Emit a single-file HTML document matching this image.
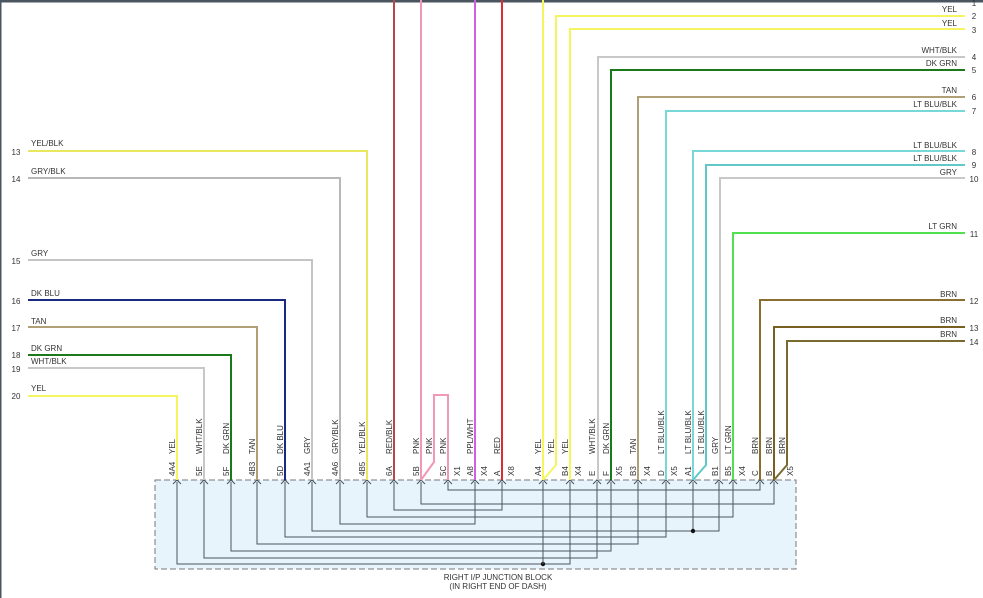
<!DOCTYPE html>
<html><head><meta charset="utf-8"><style>
html,body{margin:0;padding:0;background:#fff;width:983px;height:598px;overflow:hidden}
svg{display:block}
text{font-family:"Liberation Sans",sans-serif;font-size:8px;fill:#333}
</style></head><body>
<svg width="983" height="598" viewBox="0 0 983 598" xmlns="http://www.w3.org/2000/svg">
<rect x="0" y="0" width="983" height="598" fill="#fff"/>
<rect x="0" y="0" width="983" height="2.5" fill="#4a5560"/>
<rect x="0" y="0" width="1.5" height="598" fill="#4a5560"/>

<!-- junction block -->
<rect x="155" y="480" width="641" height="89" fill="#e8f4fc" stroke="#777" stroke-width="1" stroke-dasharray="6,3"/>
<text x="498" y="580" text-anchor="middle" font-size="7.5">RIGHT I/P JUNCTION BLOCK</text>
<text x="498" y="589" text-anchor="middle" font-size="7.5">(IN RIGHT END OF DASH)</text>

<!-- internal wiring -->
<g stroke="#4a5560" stroke-width="1" fill="none">
<path d="M177 482V564H570V482"/>
<path d="M204 482V558H597V482"/>
<path d="M231 482V551H611V482"/>
<path d="M257 482V544H638V482"/>
<path d="M285 482V537H666V482"/>
<path d="M312 482V531H719V482M693 482V531"/>
<path d="M340 482V524H475V482"/>
<path d="M367 482V517H733V482"/>
<path d="M394 482V510H502V482"/>
<path d="M421 482V504H774V482"/>
<path d="M448 482V490H760V482"/>
</g>
<circle cx="543" cy="564" r="2.2" fill="#111"/>
<path d="M543 482V564" stroke="#4a5560" stroke-width="1"/>
<circle cx="693" cy="531" r="2.2" fill="#111"/>

<!-- pin markers -->
<g stroke="#4a5560" stroke-width="1" fill="none">
<path d="M173 484l4-4 4 4M200 484l4-4 4 4M227 484l4-4 4 4M253 484l4-4 4 4M281 484l4-4 4 4M308 484l4-4 4 4M336 484l4-4 4 4M363 484l4-4 4 4M390 484l4-4 4 4M417 484l4-4 4 4M444 484l4-4 4 4M471 484l4-4 4 4M498 484l4-4 4 4M539 484l4-4 4 4M566 484l4-4 4 4M593 484l4-4 4 4M607 484l4-4 4 4M634 484l4-4 4 4M662 484l4-4 4 4M689 484l4-4 4 4M715 484l4-4 4 4M729 484l4-4 4 4M756 484l4-4 4 4M770 484l4-4 4 4"/>
</g>

<!-- external wires -->
<g fill="none" stroke-width="2">
<!-- left side -->
<path d="M28 151H367V480" stroke="#e8e860"/>
<path d="M28 178H340V480" stroke="#b8b8b8"/>
<path d="M28 260H312V480" stroke="#c4c4c4"/>
<path d="M28 300H285V480" stroke="#1a2a80"/>
<path d="M28 327H257V480" stroke="#b0a078"/>
<path d="M28 355H231V480" stroke="#1a7a1a"/>
<path d="M28 368H204V480" stroke="#c8c8c8"/>
<path d="M28 396H177V480" stroke="#f5f560"/>
<!-- top -->
<path d="M394 0V480" stroke="#b84848"/>
<path d="M421 0V480" stroke="#f098b8"/>
<path d="M448 480V395H434V462L421 480" stroke="#f098b8"/>
<path d="M475 0V480" stroke="#d060e0"/>
<path d="M502 0V480" stroke="#d83030"/>
<!-- right side -->
<path d="M543 0V480" stroke="#f5f560"/>
<path d="M965 16H556V465L543 480" stroke="#f5f560"/>
<path d="M965 29H570V480" stroke="#f5f560"/>
<path d="M965 57H598V480" stroke="#c8c8c8"/>
<path d="M965 70H611V480" stroke="#1a7a1a"/>
<path d="M965 97H638V480" stroke="#b0a078"/>
<path d="M965 111H666V480" stroke="#78d8d8"/>
<path d="M965 151H693V480" stroke="#78d8d8"/>
<path d="M965 165H706V465L693 480" stroke="#60c8c8"/>
<path d="M965 178H720V480" stroke="#c8c8c8"/>
<path d="M965 233H733V480" stroke="#50e050"/>
<path d="M965 300H760V480" stroke="#8a7030"/>
<path d="M965 327H774V480" stroke="#7a6020"/>
<path d="M965 341H787V465L774 480" stroke="#7a6a30"/>
</g>

<!-- left labels -->
<g>
<text x="31" y="146">YEL/BLK</text><text x="16" y="155" text-anchor="middle">13</text>
<text x="31" y="174">GRY/BLK</text><text x="16" y="182" text-anchor="middle">14</text>
<text x="31" y="256">GRY</text><text x="16" y="264" text-anchor="middle">15</text>
<text x="31" y="296">DK BLU</text><text x="16" y="304" text-anchor="middle">16</text>
<text x="31" y="324">TAN</text><text x="16" y="331" text-anchor="middle">17</text>
<text x="31" y="351">DK GRN</text><text x="16" y="358" text-anchor="middle">18</text>
<text x="31" y="364">WHT/BLK</text><text x="16" y="372" text-anchor="middle">19</text>
<text x="31" y="391">YEL</text><text x="16" y="399" text-anchor="middle">20</text>
</g>

<!-- right labels -->
<g>
<text x="974" y="6" text-anchor="middle">1</text>
<text x="957" y="12" text-anchor="end">YEL</text><text x="974" y="19" text-anchor="middle">2</text>
<text x="957" y="26" text-anchor="end">YEL</text><text x="974" y="33" text-anchor="middle">3</text>
<text x="957" y="53" text-anchor="end">WHT/BLK</text><text x="974" y="60" text-anchor="middle">4</text>
<text x="957" y="66" text-anchor="end">DK GRN</text><text x="974" y="73" text-anchor="middle">5</text>
<text x="957" y="93" text-anchor="end">TAN</text><text x="974" y="100" text-anchor="middle">6</text>
<text x="957" y="107" text-anchor="end">LT BLU/BLK</text><text x="974" y="114" text-anchor="middle">7</text>
<text x="957" y="148" text-anchor="end">LT BLU/BLK</text><text x="974" y="155" text-anchor="middle">8</text>
<text x="957" y="161" text-anchor="end">LT BLU/BLK</text><text x="974" y="168" text-anchor="middle">9</text>
<text x="957" y="175" text-anchor="end">GRY</text><text x="974" y="182" text-anchor="middle">10</text>
<text x="957" y="229" text-anchor="end">LT GRN</text><text x="974" y="237" text-anchor="middle">11</text>
<text x="957" y="297" text-anchor="end">BRN</text><text x="974" y="304" text-anchor="middle">12</text>
<text x="957" y="323" text-anchor="end">BRN</text><text x="974" y="331" text-anchor="middle">13</text>
<text x="957" y="337" text-anchor="end">BRN</text><text x="974" y="345" text-anchor="middle">14</text>
</g>

<!-- pin labels (rotated) -->
<g>
<text transform="translate(175,476) rotate(-90)">4A4</text><text transform="translate(175,454) rotate(-90)">YEL</text>
<text transform="translate(202,476) rotate(-90)">5E</text><text transform="translate(202,454) rotate(-90)">WHT/BLK</text>
<text transform="translate(229,476) rotate(-90)">5F</text><text transform="translate(229,454) rotate(-90)">DK GRN</text>
<text transform="translate(255,476) rotate(-90)">4B3</text><text transform="translate(255,454) rotate(-90)">TAN</text>
<text transform="translate(283,476) rotate(-90)">5D</text><text transform="translate(283,454) rotate(-90)">DK BLU</text>
<text transform="translate(310,476) rotate(-90)">4A1</text><text transform="translate(310,454) rotate(-90)">GRY</text>
<text transform="translate(338,476) rotate(-90)">4A6</text><text transform="translate(338,454) rotate(-90)">GRY/BLK</text>
<text transform="translate(365,476) rotate(-90)">4B5</text><text transform="translate(365,454) rotate(-90)">YEL/BLK</text>
<text transform="translate(392,476) rotate(-90)">6A</text><text transform="translate(392,454) rotate(-90)">RED/BLK</text>
<text transform="translate(419,476) rotate(-90)">5B</text><text transform="translate(419,454) rotate(-90)">PNK</text>
<text transform="translate(432,454) rotate(-90)">PNK</text>
<text transform="translate(446,476) rotate(-90)">5C</text><text transform="translate(446,454) rotate(-90)">PNK</text>
<text transform="translate(460,476) rotate(-90)">X1</text>
<text transform="translate(473,476) rotate(-90)">A8</text><text transform="translate(473,454) rotate(-90)">PPL/WHT</text>
<text transform="translate(487,476) rotate(-90)">X4</text>
<text transform="translate(500,476) rotate(-90)">A</text><text transform="translate(500,454) rotate(-90)">RED</text>
<text transform="translate(514,476) rotate(-90)">X8</text>
<text transform="translate(541,476) rotate(-90)">A4</text><text transform="translate(541,454) rotate(-90)">YEL</text>
<text transform="translate(554,454) rotate(-90)">YEL</text>
<text transform="translate(568,476) rotate(-90)">B4</text><text transform="translate(568,454) rotate(-90)">YEL</text>
<text transform="translate(581,476) rotate(-90)">X4</text>
<text transform="translate(595,476) rotate(-90)">E</text><text transform="translate(595,454) rotate(-90)">WHT/BLK</text>
<text transform="translate(609,476) rotate(-90)">F</text><text transform="translate(609,454) rotate(-90)">DK GRN</text>
<text transform="translate(622,476) rotate(-90)">X5</text>
<text transform="translate(636,476) rotate(-90)">B3</text><text transform="translate(636,454) rotate(-90)">TAN</text>
<text transform="translate(650,476) rotate(-90)">X4</text>
<text transform="translate(664,476) rotate(-90)">D</text><text transform="translate(664,454) rotate(-90)">LT BLU/BLK</text>
<text transform="translate(677,476) rotate(-90)">X5</text>
<text transform="translate(691,476) rotate(-90)">A1</text><text transform="translate(691,454) rotate(-90)">LT BLU/BLK</text>
<text transform="translate(704,454) rotate(-90)">LT BLU/BLK</text>
<text transform="translate(718,476) rotate(-90)">B1</text><text transform="translate(718,454) rotate(-90)">GRY</text>
<text transform="translate(731,476) rotate(-90)">B5</text><text transform="translate(731,454) rotate(-90)">LT GRN</text>
<text transform="translate(745,476) rotate(-90)">X4</text>
<text transform="translate(758,476) rotate(-90)">C</text><text transform="translate(758,454) rotate(-90)">BRN</text>
<text transform="translate(772,476) rotate(-90)">B</text><text transform="translate(772,454) rotate(-90)">BRN</text>
<text transform="translate(785,454) rotate(-90)">BRN</text>
<text transform="translate(793,476) rotate(-90)">X5</text>
</g>
</svg>
</body></html>
